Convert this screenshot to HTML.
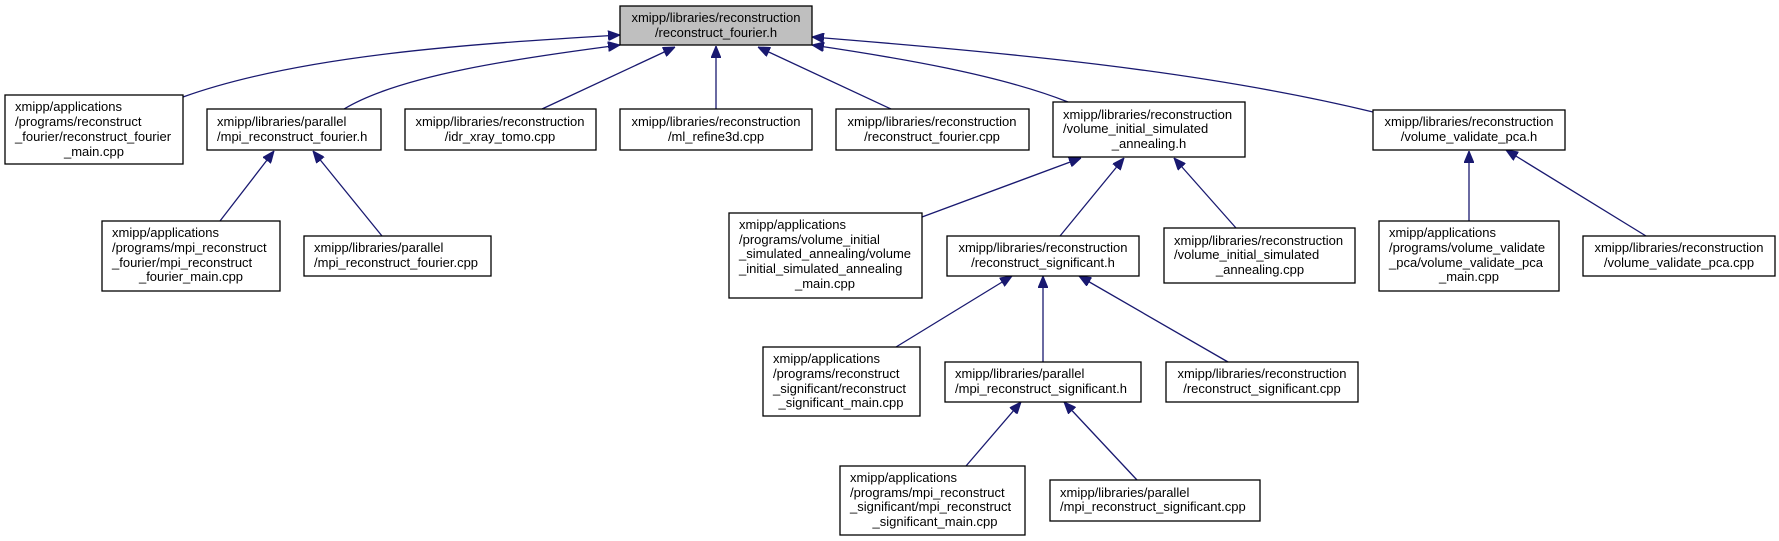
<!DOCTYPE html>
<html><head><meta charset="utf-8"><style>
html,body{margin:0;padding:0;background:#fff;}
svg{display:block;}
text{font-family:"Liberation Sans",sans-serif;font-size:13px;fill:#000;}
.b{fill:#fff;stroke:#000;stroke-width:1.3;}
.e{fill:none;stroke:#191970;stroke-width:1.3;}
</style></head><body>
<svg width="1779" height="541" viewBox="0 0 1779 541" xmlns="http://www.w3.org/2000/svg">
<defs><marker id="a" viewBox="0 0 12 10" refX="12" refY="5" markerWidth="12" markerHeight="10" markerUnits="userSpaceOnUse" orient="auto"><path d="M0,0 L12,5 L0,10 z" fill="#191970" stroke="#191970"/></marker></defs>

<!-- edges -->
<path class="e" marker-end="url(#a)" d="M183,97 C300,55 470,44 620,35"/>
<path class="e" marker-end="url(#a)" d="M344,109 C400,75 520,58 620,45"/>
<path class="e" marker-end="url(#a)" d="M542,109 L675,47"/>
<path class="e" marker-end="url(#a)" d="M716,109 L716,46"/>
<path class="e" marker-end="url(#a)" d="M891,109 L758,47"/>
<path class="e" marker-end="url(#a)" d="M1068,102 C1000,75 900,58 812,45"/>
<path class="e" marker-end="url(#a)" d="M1373,112 C1200,70 1000,52 812,37"/>
<path class="e" marker-end="url(#a)" d="M220,221 L274,151"/>
<path class="e" marker-end="url(#a)" d="M382,236 L313,151"/>
<path class="e" marker-end="url(#a)" d="M922,217 L1081,158"/>
<path class="e" marker-end="url(#a)" d="M1060,236 L1124,158"/>
<path class="e" marker-end="url(#a)" d="M1236,228 L1174,158"/>
<path class="e" marker-end="url(#a)" d="M1469,221 L1469,151"/>
<path class="e" marker-end="url(#a)" d="M1646,236 L1506,150"/>
<path class="e" marker-end="url(#a)" d="M896,347 L1012,276"/>
<path class="e" marker-end="url(#a)" d="M1043,362 L1043,276"/>
<path class="e" marker-end="url(#a)" d="M1228,362 L1079,276"/>
<path class="e" marker-end="url(#a)" d="M966,466 L1021,402"/>
<path class="e" marker-end="url(#a)" d="M1137,480 L1064,402"/>

<!-- root -->
<rect x="620" y="6" width="192" height="39" fill="#bfbfbf" stroke="#000" stroke-width="1.3"/>
<text x="716" y="22" text-anchor="middle">xmipp/libraries/reconstruction</text>
<text x="716" y="37" text-anchor="middle">/reconstruct_fourier.h</text>

<!-- A -->
<rect class="b" x="5" y="95" width="178" height="69"/>
<text x="15" y="111">xmipp/applications</text>
<text x="15" y="126">/programs/reconstruct</text>
<text x="15" y="141">_fourier/reconstruct_fourier</text>
<text x="94" y="156" text-anchor="middle">_main.cpp</text>

<!-- B -->
<rect class="b" x="207" y="109" width="174" height="41"/>
<text x="217" y="126">xmipp/libraries/parallel</text>
<text x="217" y="141">/mpi_reconstruct_fourier.h</text>

<!-- C -->
<rect class="b" x="405" y="109" width="191" height="41"/>
<text x="500" y="126" text-anchor="middle">xmipp/libraries/reconstruction</text>
<text x="500" y="141" text-anchor="middle">/idr_xray_tomo.cpp</text>

<!-- D -->
<rect class="b" x="620" y="109" width="192" height="41"/>
<text x="716" y="126" text-anchor="middle">xmipp/libraries/reconstruction</text>
<text x="716" y="141" text-anchor="middle">/ml_refine3d.cpp</text>

<!-- E -->
<rect class="b" x="836" y="109" width="193" height="41"/>
<text x="932" y="126" text-anchor="middle">xmipp/libraries/reconstruction</text>
<text x="932" y="141" text-anchor="middle">/reconstruct_fourier.cpp</text>

<!-- I -->
<rect class="b" x="1053" y="102" width="192" height="55"/>
<text x="1063" y="119">xmipp/libraries/reconstruction</text>
<text x="1063" y="133">/volume_initial_simulated</text>
<text x="1149" y="148" text-anchor="middle">_annealing.h</text>

<!-- J -->
<rect class="b" x="1373" y="110" width="192" height="40"/>
<text x="1469" y="126" text-anchor="middle">xmipp/libraries/reconstruction</text>
<text x="1469" y="141" text-anchor="middle">/volume_validate_pca.h</text>

<!-- F -->
<rect class="b" x="102" y="221" width="178" height="70"/>
<text x="112" y="237">xmipp/applications</text>
<text x="112" y="252">/programs/mpi_reconstruct</text>
<text x="112" y="267">_fourier/mpi_reconstruct</text>
<text x="191" y="281" text-anchor="middle">_fourier_main.cpp</text>

<!-- G -->
<rect class="b" x="304" y="236" width="187" height="40"/>
<text x="314" y="252">xmipp/libraries/parallel</text>
<text x="314" y="267">/mpi_reconstruct_fourier.cpp</text>

<!-- H -->
<rect class="b" x="729" y="213" width="193" height="85"/>
<text x="739" y="229">xmipp/applications</text>
<text x="739" y="244">/programs/volume_initial</text>
<text x="739" y="258">_simulated_annealing/volume</text>
<text x="739" y="273">_initial_simulated_annealing</text>
<text x="825" y="288" text-anchor="middle">_main.cpp</text>

<!-- K -->
<rect class="b" x="947" y="236" width="192" height="40"/>
<text x="1043" y="252" text-anchor="middle">xmipp/libraries/reconstruction</text>
<text x="1043" y="267" text-anchor="middle">/reconstruct_significant.h</text>

<!-- L -->
<rect class="b" x="1164" y="228" width="191" height="55"/>
<text x="1174" y="245">xmipp/libraries/reconstruction</text>
<text x="1174" y="259">/volume_initial_simulated</text>
<text x="1260" y="274" text-anchor="middle">_annealing.cpp</text>

<!-- M -->
<rect class="b" x="1379" y="221" width="180" height="70"/>
<text x="1389" y="237">xmipp/applications</text>
<text x="1389" y="252">/programs/volume_validate</text>
<text x="1389" y="267">_pca/volume_validate_pca</text>
<text x="1469" y="281" text-anchor="middle">_main.cpp</text>

<!-- N -->
<rect class="b" x="1583" y="236" width="192" height="40"/>
<text x="1679" y="252" text-anchor="middle">xmipp/libraries/reconstruction</text>
<text x="1679" y="267" text-anchor="middle">/volume_validate_pca.cpp</text>

<!-- O -->
<rect class="b" x="763" y="347" width="157" height="69"/>
<text x="773" y="363">xmipp/applications</text>
<text x="773" y="378">/programs/reconstruct</text>
<text x="773" y="393">_significant/reconstruct</text>
<text x="841" y="407" text-anchor="middle">_significant_main.cpp</text>

<!-- P -->
<rect class="b" x="945" y="362" width="196" height="40"/>
<text x="955" y="378">xmipp/libraries/parallel</text>
<text x="955" y="393">/mpi_reconstruct_significant.h</text>

<!-- Q -->
<rect class="b" x="1166" y="362" width="192" height="40"/>
<text x="1262" y="378" text-anchor="middle">xmipp/libraries/reconstruction</text>
<text x="1262" y="393" text-anchor="middle">/reconstruct_significant.cpp</text>

<!-- R -->
<rect class="b" x="840" y="466" width="185" height="69"/>
<text x="850" y="482">xmipp/applications</text>
<text x="850" y="497">/programs/mpi_reconstruct</text>
<text x="850" y="511">_significant/mpi_reconstruct</text>
<text x="935" y="526" text-anchor="middle">_significant_main.cpp</text>

<!-- S -->
<rect class="b" x="1050" y="480" width="210" height="41"/>
<text x="1060" y="497">xmipp/libraries/parallel</text>
<text x="1060" y="511">/mpi_reconstruct_significant.cpp</text>
</svg>
</body></html>
